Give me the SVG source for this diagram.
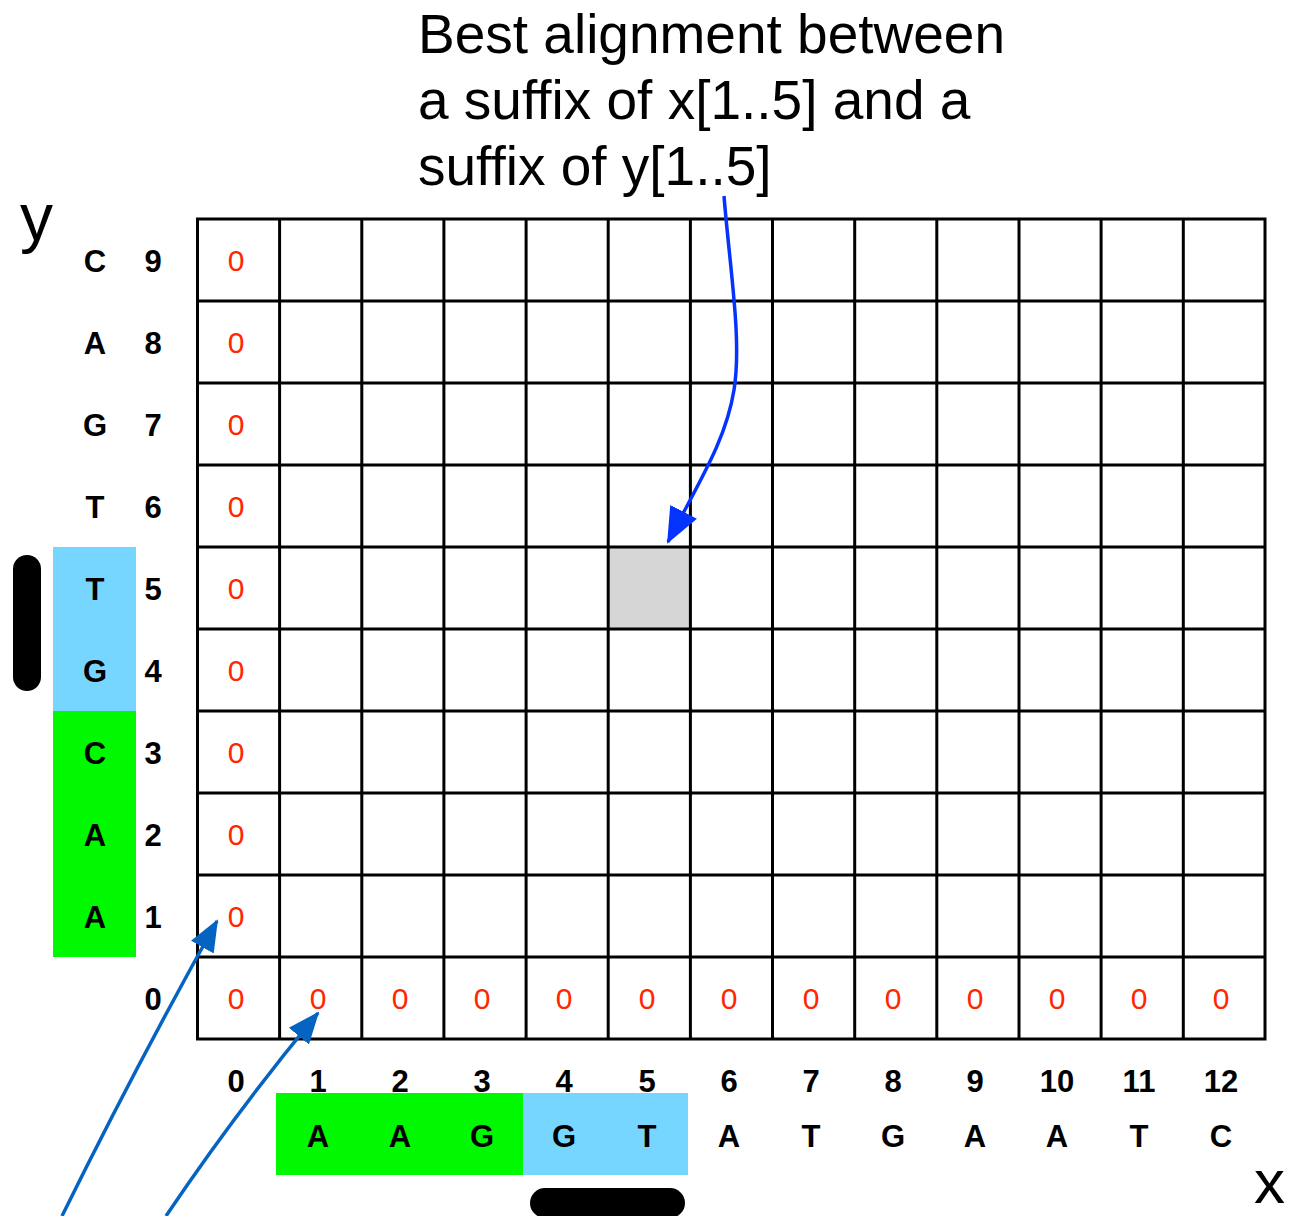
<svg xmlns="http://www.w3.org/2000/svg" width="1306" height="1216" viewBox="0 0 1306 1216">
<style>
.z{font-family:"Liberation Sans",Arial,sans-serif;font-size:30px;fill:#FF2600;text-anchor:middle}
.b{font-family:"Liberation Sans",Arial,sans-serif;font-size:31px;font-weight:bold;fill:#000;text-anchor:middle}
.t{font-family:"Liberation Sans",Arial,sans-serif;font-size:55px;fill:#000}
.g{stroke:#000;stroke-width:3;fill:none}
</style>
<defs>
<marker id="ah1" markerUnits="userSpaceOnUse" markerWidth="36" markerHeight="32" viewBox="0 0 36 32" refX="34" refY="16" orient="auto"><path d="M0,1 L36,16 L0,31 z" fill="#0433FF"/></marker>
<marker id="ah2" markerUnits="userSpaceOnUse" markerWidth="32" markerHeight="28" viewBox="0 0 32 28" refX="30" refY="14" orient="auto"><path d="M0,1 L32,14 L0,27 z" fill="#0563C1"/></marker>
</defs>
<g id="title">
<text class="t" x="418" y="53">Best alignment between</text>
<text class="t" x="418" y="119">a suffix of x[1..5] and a</text>
<text class="t" x="418" y="185">suffix of y[1..5]</text>
</g>
<g id="axis-labels">
<text x="20" y="240" style="font-family:'Liberation Sans',Arial,sans-serif;font-size:66px;fill:#000">y</text>
<text x="1254" y="1203" style="font-family:'Liberation Sans',Arial,sans-serif;font-size:62px;fill:#000">x</text>
</g>
<g id="highlights">
<rect x="53" y="547" width="83" height="164" fill="#76D6FF"/>
<rect x="53" y="711" width="83" height="246" fill="#00F900"/>
<rect x="276" y="1093" width="247" height="82" fill="#00F900"/>
<rect x="523" y="1093" width="165" height="82" fill="#76D6FF"/>
<rect x="608" y="547" width="82" height="82" fill="#D6D6D6"/>
<rect x="13" y="555" width="28" height="136" rx="14" fill="#000"/>
<rect x="530" y="1188" width="155" height="30" rx="15" fill="#000"/>
</g>
<g id="grid" class="g">
<rect x="197.5" y="219" width="1067.5" height="820"/>
<path d="M279.6,219V1039M361.8,219V1039M443.9,219V1039M526.1,219V1039M608.2,219V1039M690.4,219V1039M772.5,219V1039M854.7,219V1039M936.8,219V1039M1019,219V1039M1101.1,219V1039M1183.3,219V1039"/>
<path d="M197.5,301H1265M197.5,383H1265M197.5,465H1265M197.5,547H1265M197.5,629H1265M197.5,711H1265M197.5,793H1265M197.5,875H1265M197.5,957H1265"/>
</g>
<g id="zeros">
<text class="z" x="236" y="271">0</text>
<text class="z" x="236" y="353">0</text>
<text class="z" x="236" y="435">0</text>
<text class="z" x="236" y="517">0</text>
<text class="z" x="236" y="599">0</text>
<text class="z" x="236" y="681">0</text>
<text class="z" x="236" y="763">0</text>
<text class="z" x="236" y="845">0</text>
<text class="z" x="236" y="927">0</text>
<text class="z" x="236" y="1009">0</text>
<text class="z" x="318" y="1009">0</text>
<text class="z" x="400" y="1009">0</text>
<text class="z" x="482" y="1009">0</text>
<text class="z" x="564" y="1009">0</text>
<text class="z" x="647" y="1009">0</text>
<text class="z" x="729" y="1009">0</text>
<text class="z" x="811" y="1009">0</text>
<text class="z" x="893" y="1009">0</text>
<text class="z" x="975" y="1009">0</text>
<text class="z" x="1057" y="1009">0</text>
<text class="z" x="1139" y="1009">0</text>
<text class="z" x="1221" y="1009">0</text>
</g>
<g id="y-labels">
<text class="b" x="95" y="272">C</text><text class="b" x="153" y="272">9</text>
<text class="b" x="95" y="354">A</text><text class="b" x="153" y="354">8</text>
<text class="b" x="95" y="436">G</text><text class="b" x="153" y="436">7</text>
<text class="b" x="95" y="518">T</text><text class="b" x="153" y="518">6</text>
<text class="b" x="95" y="600">T</text><text class="b" x="153" y="600">5</text>
<text class="b" x="95" y="682">G</text><text class="b" x="153" y="682">4</text>
<text class="b" x="95" y="764">C</text><text class="b" x="153" y="764">3</text>
<text class="b" x="95" y="846">A</text><text class="b" x="153" y="846">2</text>
<text class="b" x="95" y="928">A</text><text class="b" x="153" y="928">1</text>
<text class="b" x="153" y="1010">0</text>
</g>
<g id="x-labels">
<text class="b" x="236" y="1092">0</text>
<text class="b" x="318" y="1092">1</text><text class="b" x="318" y="1147">A</text>
<text class="b" x="400" y="1092">2</text><text class="b" x="400" y="1147">A</text>
<text class="b" x="482" y="1092">3</text><text class="b" x="482" y="1147">G</text>
<text class="b" x="564" y="1092">4</text><text class="b" x="564" y="1147">G</text>
<text class="b" x="647" y="1092">5</text><text class="b" x="647" y="1147">T</text>
<text class="b" x="729" y="1092">6</text><text class="b" x="729" y="1147">A</text>
<text class="b" x="811" y="1092">7</text><text class="b" x="811" y="1147">T</text>
<text class="b" x="893" y="1092">8</text><text class="b" x="893" y="1147">G</text>
<text class="b" x="975" y="1092">9</text><text class="b" x="975" y="1147">A</text>
<text class="b" x="1057" y="1092">10</text><text class="b" x="1057" y="1147">A</text>
<text class="b" x="1139" y="1092">11</text><text class="b" x="1139" y="1147">T</text>
<text class="b" x="1221" y="1092">12</text><text class="b" x="1221" y="1147">C</text>
</g>
<g id="connectors" fill="none">
<path d="M724,196 C730,270 742,340 734,390 C726,440 700,480 668,542" stroke="#0433FF" stroke-width="3.5" marker-end="url(#ah1)"/>
<path d="M62,1216 Q136,1066 217,921" stroke="#0563C1" stroke-width="3.5" marker-end="url(#ah2)"/>
<path d="M166,1216 Q236,1112 318,1013" stroke="#0563C1" stroke-width="3.5" marker-end="url(#ah2)"/>
</g>
</svg>
